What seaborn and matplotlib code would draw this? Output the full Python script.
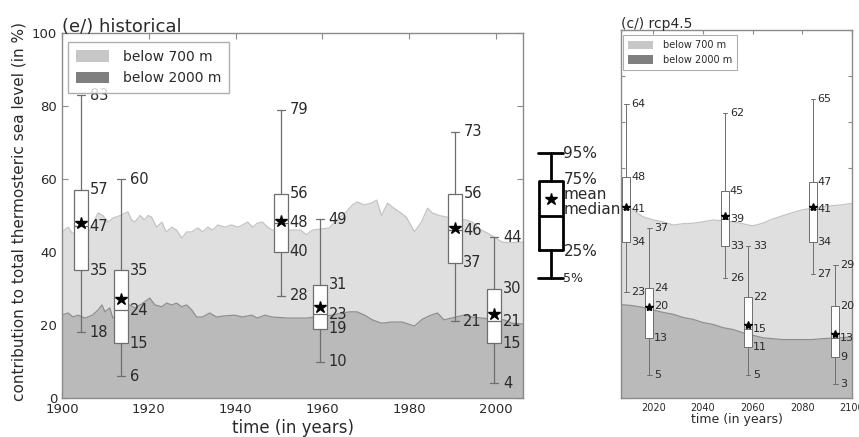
import matplotlib
matplotlib.use("Agg")
import matplotlib.pyplot as plt
import seaborn as sns
from matplotlib.patches import Patch

# ---------------- data ----------------
# historical: contribution (in %) of the layers
hist_years_700 = [1900, 1901.4, 1902.3, 1906, 1907, 1908.3, 1909.4, 1910.6, 1911.7, 1913, 1915.2, 1916,
                  1916.8, 1918, 1919, 1919.8, 1920.6, 1921.8, 1923, 1924, 1925.3, 1926.4, 1927.6,
                  1928.7, 1929.9, 1931.3, 1932.4, 1933.6, 1934.7, 1935.9, 1937.5, 1939, 1940.5,
                  1941.6, 1942.8, 1943.9, 1945, 1946.2, 1947.4, 1948.5, 1952, 1955, 1956.3, 1957.7,
                  1961.6, 1963.2, 1965.5, 1966.9, 1968, 1969.7, 1971.3, 1972.5, 1973.6, 1975,
                  1976.1, 1977.7, 1979.3, 1981.2, 1982.8, 1984.2, 1985.3, 1986.9, 1988.5, 1993,
                  1994.5, 1996.6, 1998, 2001.4, 2003.4, 2005.3, 2006.5]
hist_pct_700 = [45.5, 46.8, 45.2, 45.2, 47.4, 50.7, 50, 48.2, 49.3, 49.8, 51, 48.8,
                48.2, 50, 48.8, 50, 49.6, 46.8, 48.2, 45.5, 46.8, 46, 43.8,
                45.5, 45.5, 46.6, 45.5, 46.8, 46, 47.4, 46.8, 47.4, 46.8,
                47.4, 48.2, 46.8, 47.9, 48.2, 46.8, 46, 46, 46, 44.7, 46,
                46.6, 48.8, 51, 52.9, 53.7, 52.9, 53.4, 54.2, 50, 53.4,
                52.3, 51, 49.6, 45.5, 48.2, 52, 50.7, 50, 49.6, 48.8,
                48.2, 46, 45.2, 42.7, 42.5, 42.7, 42.7]

hist_years_2000 = [1900, 1901.4, 1902.5, 1903.7, 1905.3, 1907, 1908.3, 1909.2, 1909.9, 1911, 1911.7,
                   1915.6, 1916.8, 1918, 1919, 1920.2, 1921.4, 1923, 1924.1, 1925.3, 1926.4,
                   1927.6, 1928.7, 1929.9, 1931, 1932.4, 1934, 1935.6, 1937.5, 1939.8, 1941.6,
                   1943.7, 1945, 1946.7, 1948.3, 1952, 1955, 1956.3, 1962.3, 1964.6, 1966.2,
                   1968, 1969.7, 1971.5, 1973.6, 1975.9, 1978.4, 1981.2, 1983, 1985, 1986.5,
                   1988, 1992.6, 1994.5, 1996.6, 2001.8, 2003.7, 2005.7, 2006.5]
hist_pct_2000 = [22.7, 23.3, 22.2, 22.7, 21.9, 22.7, 24.1, 25.5, 23.6, 24.7, 21.9,
                 25.5, 24.7, 25.5, 26.3, 27.4, 25.5, 25, 26, 25.5, 26,
                 25, 25.5, 24.1, 22.2, 22.2, 23.3, 22.2, 22.5, 22.7, 22.2,
                 22.7, 21.9, 22.7, 22.2, 21.9, 21.9, 21.9, 22.7, 23.3, 23.6,
                 23.6, 22.7, 21.4, 20.5, 20.8, 20.8, 19.7, 21.6, 22.7, 23.3,
                 21.4, 22.7, 22.2, 21.9, 21.4, 20.5, 20.3, 20.3]

# rcp4.5
rcp_years_700 = [2007, 2011.4, 2013.4, 2015.8, 2020, 2024, 2028, 2032, 2036, 2040, 2044, 2052,
                 2056, 2060, 2064, 2068, 2072, 2076, 2080, 2088, 2092, 2096, 2100]
rcp_pct_700 = [41.4, 41.1, 40.3, 39.4, 38.7, 38.3, 37.6, 37.9, 38, 38.3, 38.7, 38.3,
               37.9, 37.4, 38, 38.9, 39.6, 40.3, 40.9, 41.6, 41.8, 42, 42.3]
rcp_years_2000 = [2007, 2011.4, 2015.8, 2024, 2028, 2032, 2036, 2040, 2044, 2048, 2052, 2056,
                  2064, 2068, 2072, 2076, 2080, 2084, 2088, 2096, 2100]
rcp_pct_2000 = [20.3, 20.1, 19.7, 18.6, 18.2, 17.5, 17.1, 16.4, 16, 15.3, 14.9, 14.2,
                13.1, 12.9, 12.7, 12.7, 12.7, 12.7, 12.9, 13.1, 13.3]

# box statistics (historical)
hist_box_years = [1904.4, 1913.6, 1950.5, 1959.5, 1990.5, 1999.6]
hist_p5 = [18, 6, 28, 10, 21, 4]
hist_p25 = [35, 15, 40, 19, 37, 15]
hist_median = [47, 24, 48, 23, 46, 21]
hist_p75 = [57, 35, 56, 31, 56, 30]
hist_p95 = [83, 60, 79, 49, 73, 44]
hist_mean = [48, 27, 48.5, 25, 46.6, 23]

# box statistics (rcp4.5)
rcp_box_years = [2009.2, 2018.4, 2048.9, 2058.2, 2084.2, 2093.3]
rcp_p5 = [23, 5, 26, 5, 27, 3]
rcp_p25 = [34, 13, 33, 11, 34, 9]
rcp_median = [41, 20, 39, 15, 41, 13]
rcp_p75 = [48, 24, 45, 22, 47, 20]
rcp_p95 = [64, 37, 62, 33, 65, 29]
rcp_mean = [41.5, 19.7, 39.6, 15.8, 41.6, 14]

# key (explanation of the box symbols)
key_labels = ["5%", "25%", "median", "mean", "75%", "95%"]
key_values = [5, 25, 50, 62, 75, 95]

hist_xticks = [1900, 1920, 1940, 1960, 1980, 2000]
hist_yticks = [0, 20, 40, 60, 80, 100]
rcp_xticks = [2020, 2040, 2060, 2080, 2100]
rcp_yticks = [0, 10, 20, 30, 40, 50, 60, 70, 80]

# ---------------- style ----------------
sns.set_style("ticks")
plt.rcParams['font.family'] = ['DejaVu Sans']

LIGHT = '#dfdfe0'
DARK = '#bababa'
LIGHT_EDGE = '#c3c3c3'
DARK_EDGE = '#8f8f8f'
LEG_LIGHT = '#c7c7c7'
LEG_DARK = '#7f7f7f'
BOXC = '#6e6e6e'
SPINE = '#8a8a8a'
TXT = '#2a2a2a'

W, H = 859, 437
fig = plt.figure(figsize=(W / 100, H / 100), dpi=100)


def px_axes(x0, y0, x1, y1):
    return fig.add_axes([x0 / W, 1 - y1 / H, (x1 - x0) / W, (y1 - y0) / H])


def draw_panel(ax, y700, p700, y2000, p2000, boxyears, p5, p25, med, p75, p95, mean,
               lab_fs, star_ms, lw):
    ax.fill_between(y700, 0, p700, color=LIGHT, lw=0, zorder=1)
    sns.lineplot(x=y700, y=p700, ax=ax, color=LIGHT_EDGE, lw=0.9, zorder=1.2)
    ax.fill_between(y2000, 0, p2000, color=DARK, lw=0, zorder=1.3)
    sns.lineplot(x=y2000, y=p2000, ax=ax, color=DARK_EDGE, lw=0.9, zorder=1.4)
    stats = []
    for i in range(len(boxyears)):
        stats.append(dict(med=med[i], q1=p25[i], q3=p75[i], whislo=p5[i], whishi=p95[i],
                          mean=mean[i], fliers=[]))
    ax.bxp(stats, positions=boxyears, widths=3.2, capwidths=1.8, showmeans=True,
           showfliers=False, patch_artist=True, manage_ticks=False, zorder=3,
           boxprops=dict(facecolor='white', edgecolor=BOXC, lw=lw),
           whiskerprops=dict(color=BOXC, lw=lw),
           capprops=dict(color=BOXC, lw=lw),
           medianprops=dict(color=BOXC, lw=lw),
           meanprops=dict(marker='*', markerfacecolor='black', markeredgecolor='black',
                          markersize=star_ms))
    for i, x in enumerate(boxyears):
        for v in (p5[i], p25[i], med[i], p75[i], p95[i]):
            ax.text(x + 1.6 + 0.35, v, f"{v:g}", ha='left', va='center',
                    fontsize=lab_fs, color=TXT, zorder=4)


def style_axes(ax, fs):
    for s in ax.spines.values():
        s.set_color(SPINE)
        s.set_linewidth(1.0)
    ax.tick_params(direction='in', top=True, right=True, length=4, width=0.8,
                   colors=SPINE, labelcolor=TXT, labelsize=fs)


# ---------------- left panel: historical ----------------
ax1 = px_axes(62, 33, 523, 398)
draw_panel(ax1, hist_years_700, hist_pct_700, hist_years_2000, hist_pct_2000,
           hist_box_years, hist_p5, hist_p25, hist_median, hist_p75, hist_p95, hist_mean,
           lab_fs=10.5, star_ms=9, lw=0.9)
ax1.set_xlim(1900, 2006.2)
ax1.set_ylim(0, 100)
ax1.set_xticks(hist_xticks)
ax1.set_yticks(hist_yticks)
style_axes(ax1, 9.5)
ax1.set_xlabel("time (in years)", fontsize=12, color=TXT)
ax1.xaxis.set_label_coords(0.5, -0.058)
ax1.set_ylabel("contribution to total thermosteric sea level (in %)", fontsize=11, color=TXT)
ax1.yaxis.set_label_coords(-0.078, 0.51)
ax1.set_title("(e/) historical", loc='left', fontsize=13, color=TXT, pad=1)
h1 = [Patch(facecolor=LEG_LIGHT, edgecolor='none', label='below 700 m'),
      Patch(facecolor=LEG_DARK, edgecolor='none', label='below 2000 m')]
leg1 = ax1.legend(handles=h1, loc='upper left', bbox_to_anchor=(0.013, 0.975),
                  borderaxespad=0, fontsize=10, frameon=True, fancybox=False,
                  handlelength=2.4, handleheight=0.9, labelspacing=0.55,
                  borderpad=0.55, handletextpad=1.0)
leg1.get_frame().set_edgecolor('#9a9a9a')
leg1.get_frame().set_linewidth(1.0)
for t in leg1.get_texts():
    t.set_color(TXT)
leg1.set_zorder(10)

# ---------------- key ----------------
axk = px_axes(520, 140, 620, 290)
axk.set_xlim(0, 100)
axk.set_ylim(-3.64, 104.4)
axk.axis('off')
kstats = [dict(whislo=key_values[0], q1=key_values[1], med=key_values[2],
               mean=key_values[3], q3=key_values[4], whishi=key_values[5], fliers=[])]
axk.bxp(kstats, positions=[30.5], widths=24, capwidths=25, showmeans=True, showfliers=False,
        manage_ticks=False,
        boxprops=dict(color='black', lw=2), whiskerprops=dict(color='black', lw=2),
        capprops=dict(color='black', lw=2), medianprops=dict(color='black', lw=2),
        meanprops=dict(marker='*', markerfacecolor='black', markeredgecolor='black',
                       markersize=9))
key_text_shift = {"median": 4.0, "mean": 3.2, "25%": -0.8, "5%": -0.5, "75%": 1.0, "95%": 0.0}
for lab, v in zip(key_labels, key_values):
    axk.text(43.5, v + key_text_shift[lab], lab, ha='left', va='center',
             fontsize=9 if lab == "5%" else 11, color=TXT)

# ---------------- right panel: rcp4.5 ----------------
ax2 = px_axes(621, 30, 852, 398)
draw_panel(ax2, rcp_years_700, rcp_pct_700, rcp_years_2000, rcp_pct_2000,
           rcp_box_years, rcp_p5, rcp_p25, rcp_median, rcp_p75, rcp_p95, rcp_mean,
           lab_fs=8, star_ms=6, lw=0.7)
ax2.set_xlim(2007, 2100)
ax2.set_ylim(0, 80)
ax2.set_xticks(rcp_xticks)
ax2.set_yticks(rcp_yticks)
style_axes(ax2, 7)
ax2.tick_params(labelleft=False, length=3)
ax2.set_xlabel("time (in years)", fontsize=9, color=TXT)
ax2.xaxis.set_label_coords(0.5, -0.04)
ax2.set_ylabel("")
ax2.set_title("(c/) rcp4.5", loc='left', fontsize=10, color=TXT, pad=1.5)
h2 = [Patch(facecolor=LEG_LIGHT, edgecolor='none', label='below 700 m'),
      Patch(facecolor=LEG_DARK, edgecolor='none', label='below 2000 m')]
leg2 = ax2.legend(handles=h2, loc='upper left', bbox_to_anchor=(0.009, 0.986),
                  borderaxespad=0, fontsize=7, frameon=True, fancybox=False,
                  handlelength=2.6, handleheight=0.9, labelspacing=0.5,
                  borderpad=0.5, handletextpad=1.0)
leg2.get_frame().set_edgecolor('#9a9a9a')
leg2.get_frame().set_linewidth(0.8)
for t in leg2.get_texts():
    t.set_color(TXT)
leg2.set_zorder(10)

fig.savefig("out.png", dpi=100)
